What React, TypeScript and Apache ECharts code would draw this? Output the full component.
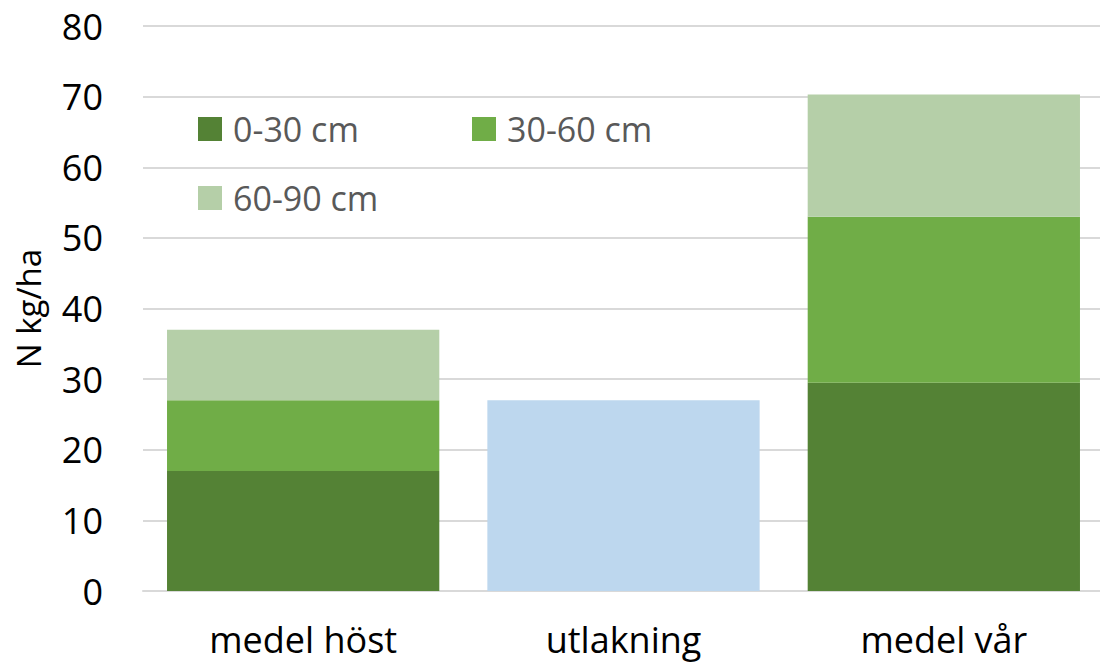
import React, { useEffect, useRef } from "react";
import * as echarts from "echarts";

// Categories along the x axis
const categories = ["medel höst", "utlakning", "medel vår"];

// Soil nitrogen per depth layer (N kg/ha)
const layer0to30 = [17, null, 29.5];
const layer30to60 = [10, null, 23.5];
const layer60to90 = [10, null, 17.3];
// Leaching
const leaching = [null, 27, null];

const yTicks = { min: 0, max: 80, interval: 10 };

const seriesNames = ["0-30 cm", "30-60 cm", "60-90 cm"];
const FONT = "'Open Sans', 'Liberation Sans', sans-serif";

export default function App() {
  const ref = useRef<HTMLDivElement>(null);

  useEffect(() => {
    if (!ref.current) return;
    const chart = echarts.init(ref.current, undefined, { renderer: "svg" });

    const legendBase = {
      icon: "rect",
      itemWidth: 24,
      itemHeight: 24,
      padding: 0,
      orient: "horizontal" as const,
      selectedMode: false,
      textStyle: {
        fontFamily: FONT,
        fontSize: 34,
        color: "#595959",
        lineHeight: 24,
        padding: [0, 0, 0, 6],
      },
    };

    chart.setOption({
      animation: false,
      backgroundColor: "#ffffff",
      grid: {
        left: 143,
        top: 26,
        width: 961,
        height: 565,
        containLabel: false,
        outerBoundsMode: "none",
      },
      legend: [
        { ...legendBase, left: 198, top: 112, data: [seriesNames[0]] },
        { ...legendBase, left: 472, top: 112, data: [seriesNames[1]] },
        { ...legendBase, left: 198, top: 181, data: [seriesNames[2]] },
      ],
      xAxis: {
        type: "category",
        data: categories,
        axisLine: { show: true, lineStyle: { color: "#d9d9d9", width: 2 } },
        axisTick: { show: false },
        axisLabel: {
          fontFamily: FONT,
          fontSize: 36,
          color: "#000000",
          margin: 30,
        },
      },
      yAxis: {
        type: "value",
        min: yTicks.min,
        max: yTicks.max,
        interval: yTicks.interval,
        name: "N kg/ha",
        nameLocation: "middle",
        nameGap: 98,
        nameRotate: 90,
        nameTextStyle: { fontFamily: FONT, fontSize: 33, color: "#000000" },
        axisLine: { show: false },
        axisTick: { show: false },
        splitLine: { lineStyle: { color: "#d9d9d9", width: 2 } },
        axisLabel: {
          fontFamily: FONT,
          fontSize: 36,
          color: "#000000",
          margin: 40,
        },
      },
      series: [
        {
          name: seriesNames[0],
          type: "bar",
          stack: "soil",
          barWidth: "85%",
          data: layer0to30,
          itemStyle: { color: "#548235" },
        },
        {
          name: seriesNames[1],
          type: "bar",
          stack: "soil",
          barWidth: "85%",
          data: layer30to60,
          itemStyle: { color: "#70ad47" },
        },
        {
          name: seriesNames[2],
          type: "bar",
          stack: "soil",
          barWidth: "85%",
          data: layer60to90,
          itemStyle: { color: "#b5cfa8" },
        },
        {
          name: "utlakning",
          type: "bar",
          stack: "soil",
          barWidth: "85%",
          data: leaching,
          itemStyle: { color: "#bdd7ee" },
        },
      ],
    });

    return () => chart.dispose();
  }, []);

  return (
    <div
      ref={ref}
      style={{ position: "fixed", left: 0, top: 0, width: 1100, height: 664 }}
    />
  );
}
